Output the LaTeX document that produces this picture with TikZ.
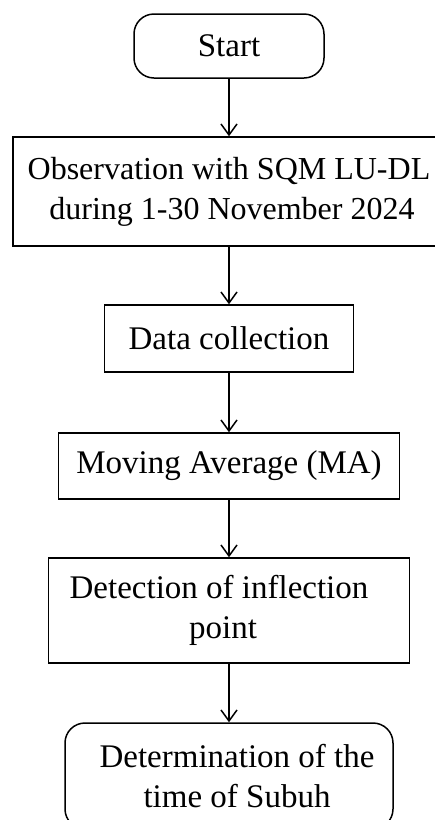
\documentclass[tikz,border=0pt]{standalone}
\usepackage{fontspec}
\setmainfont{Liberation Serif}
\usepackage{tikz}
\usetikzlibrary{arrows.meta}

\begin{document}
\begin{tikzpicture}[x=1pt,y=-1pt]
		\useasboundingbox (0,0) rectangle (435,820);
		\tikzstyle{every node}+=[draw,line width=1.5pt,align=center,inner sep=0pt,font=\fontsize{33}{40}\selectfont]
		\tikzstyle{term}=[rounded corners=20pt]
		\node[term,minimum width=190pt,minimum height=64pt] (start) at (229,46) {Start};
		\node[minimum width=432pt,minimum height=109pt,font=\fontsize{32}{40}\selectfont] (obs) at (229,191.5) {Observation with SQM LU-DL\\\hspace*{6pt}during 1-30 November 2024};
		\node[minimum width=249pt,minimum height=67pt] (data) at (229,338.5) {Data collection};
		\node[minimum width=341pt,minimum height=66pt] (ma) at (229,466) {Moving Average (MA)};
		\node[minimum width=361pt,minimum height=105pt] (det) at (229,610.5) {Detection of inflection\hspace*{20pt}\\point\hspace*{12pt}};
		\node[term,minimum width=328pt,minimum height=106pt] (subuh) at (229,776) {\hspace*{16pt}Determination of the\\\hspace*{16pt}time of Subuh};
		\tikzstyle{every edge}+=[-{Straight Barb[length=11pt,width=16pt]},line width=1.5pt]
		\draw (start) edge (obs)
		(obs) edge (data)
		(data) edge (ma)
		(ma) edge (det)
		(det) edge (subuh);
\end{tikzpicture}
\end{document}
